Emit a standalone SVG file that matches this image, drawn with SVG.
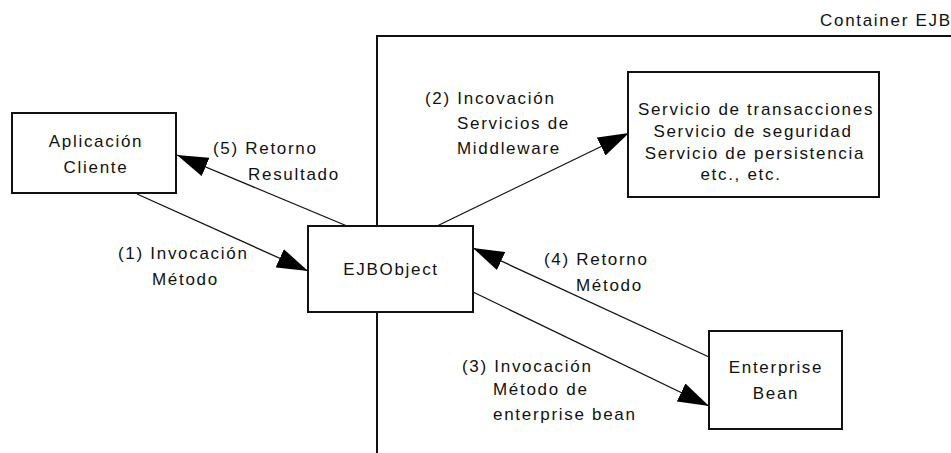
<svg xmlns="http://www.w3.org/2000/svg" width="951" height="453" viewBox="0 0 951 453">
<defs>
<style>
.t{font-family:"Liberation Sans",Arial,sans-serif;font-size:17px;letter-spacing:1.7px;fill:#111}
.m{text-anchor:middle}
.box{fill:#fff;stroke:#111;stroke-width:2}
.c{stroke:#111;stroke-width:1.3;fill:none}
.cont{stroke:#111;stroke-width:2;fill:none}
</style>
<marker id="ah" markerUnits="userSpaceOnUse" markerWidth="32" markerHeight="20" refX="31" refY="10" orient="auto">
<path d="M0,0 L31,10 L0,20 z" fill="#000"/>
</marker>
</defs>
<rect width="951" height="453" fill="#fff"/>
<g id="container">
<path class="cont" d="M377,453 V36 H951"/>
<text class="t" x="820" y="26">Container EJB</text>
</g>
<g id="connectors">
<line class="c" x1="137" y1="194" x2="308" y2="271" marker-end="url(#ah)"/>
<line class="c" x1="347" y1="226" x2="177" y2="155" marker-end="url(#ah)"/>
<line class="c" x1="437" y1="226" x2="629" y2="133" marker-end="url(#ah)"/>
<line class="c" x1="473" y1="292" x2="709" y2="406" marker-end="url(#ah)"/>
<line class="c" x1="709" y1="357" x2="473" y2="248" marker-end="url(#ah)"/>
<text class="t" x="213" y="154">(5) Retorno</text>
<text class="t" x="248" y="180">Resultado</text>
<text class="t" x="118" y="259">(1) Invocación</text>
<text class="t" x="152" y="285">Método</text>
<text class="t" x="425" y="104">(2) Incovación</text>
<text class="t" x="457" y="129">Servicios de</text>
<text class="t" x="457" y="154">Middleware</text>
<text class="t" x="544" y="265">(4) Retorno</text>
<text class="t" x="576" y="291">Método</text>
<text class="t" x="462" y="372">(3) Invocación</text>
<text class="t" x="493" y="395">Método de</text>
<text class="t" x="493" y="420">enterprise bean</text>
</g>
<g id="cliente">
<rect class="box" x="12" y="113" width="164" height="80"/>
<text class="t m" x="96" y="147">Aplicación</text>
<text class="t m" x="96" y="173">Cliente</text>
</g>
<g id="ejbobject">
<rect class="box" x="308" y="226" width="165" height="86"/>
<text class="t m" x="391" y="275">EJBObject</text>
</g>
<g id="servicios">
<rect class="box" x="628" y="72" width="251" height="125"/>
<text class="t m" x="756" y="115">Servicio de transacciones</text>
<text class="t m" x="753" y="137">Servicio de seguridad</text>
<text class="t m" x="755" y="159">Servicio de persistencia</text>
<text class="t m" x="741" y="180">etc., etc.</text>
</g>
<g id="enterprise">
<rect class="box" x="709" y="331" width="133" height="98"/>
<text class="t m" x="776" y="373">Enterprise</text>
<text class="t m" x="776" y="399">Bean</text>
</g>
</svg>
